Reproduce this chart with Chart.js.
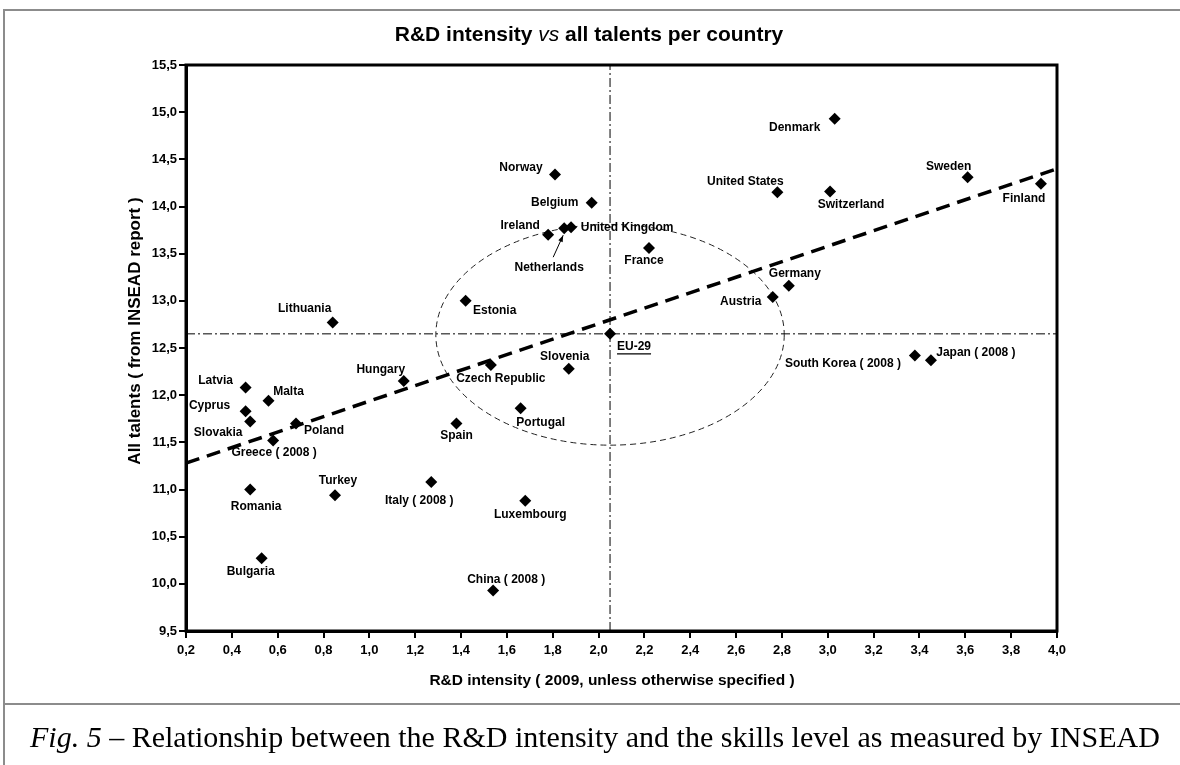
<!DOCTYPE html>
<html>
<head>
<meta charset="utf-8">
<script src="https://cdn.jsdelivr.net/npm/chart.js@4.4.1/dist/chart.umd.min.js"></script>
<style>
  html, body { margin: 0; padding: 0; background: #fff; }
  #wrap { position: relative; width: 1180px; height: 765px; overflow: hidden; }
  #frame { position: absolute; left: 3px; top: 9px; width: 1190px; height: 800px;
           border-left: 2px solid #8c8c8c; border-top: 2px solid #8c8c8c; }
  #sep { position: absolute; left: 3px; top: 703px; width: 1190px; border-top: 2px solid #8c8c8c; }
  #cap { position: absolute; left: 30px; top: 722px; white-space: nowrap; line-height: 30px;
         font-family: 'Liberation Serif', 'Times New Roman', serif; font-size: 30px; color: #000; }
  #c { position: absolute; left: 0; top: 0; }
</style>
</head>
<body>
<div id="wrap">
  <div id="frame"></div>
  <div id="sep"></div>
  <canvas id="c" width="1180" height="765"></canvas>
  <div id="cap"><i>Fig. 5</i> – Relationship between the R&amp;D intensity and the skills level as measured by INSEAD</div>
</div>
<script>
// --------- Data ----------
const countries = [
  "Latvia", "Malta", "Cyprus", "Slovakia", "Poland", "Greece ( 2008 )", "Hungary",
  "Czech Republic", "Portugal", "Spain", "Romania", "Turkey", "Italy ( 2008 )",
  "Luxembourg", "Bulgaria", "China ( 2008 )", "Lithuania", "Estonia", "Slovenia",
  "Norway", "Belgium", "Ireland", "Netherlands", "United Kingdom", "France", "EU-29",
  "Austria", "Germany", "United States", "Denmark", "Switzerland", "Sweden", "Finland",
  "South Korea ( 2008 )", "Japan ( 2008 )"
];
const rdIntensity = [
  0.46, 0.56, 0.46, 0.48, 0.68, 0.58, 1.15,
  1.53, 1.66, 1.38, 0.48, 0.85, 1.27,
  1.68, 0.53, 1.54, 0.84, 1.42, 1.87,
  1.81, 1.97, 1.78, 1.85, 1.88, 2.22, 2.05,
  2.76, 2.83, 2.78, 3.03, 3.01, 3.61, 3.93,
  3.38, 3.45
];
const allTalents = [
  12.08, 11.94, 11.83, 11.72, 11.70, 11.52, 12.15,
  12.32, 11.86, 11.70, 11.00, 10.94, 11.08,
  10.88, 10.27, 9.93, 12.77, 13.00, 12.28,
  14.34, 14.04, 13.70, 13.77, 13.78, 13.56, 12.65,
  13.04, 13.16, 14.15, 14.93, 14.16, 14.31, 14.24,
  12.42, 12.37
];

const xTicks = { min: 0.2, max: 4.0, step: 0.2 };
const yTicks = { min: 9.5, max: 15.5, step: 0.5 };

// trend line (ends of the dashed line)
const trendX = [0.2, 4.0];
const trendY = [11.28, 14.40];

// EU-29 reference lines
const refX = 2.05;
const refY = 12.65;

// dashed ellipse around the EU average (centre and half-axes in data units)
const ellipseCentre = [2.05, 12.64];
const ellipseRadii = [0.76, 1.17];

// --------- Label placement (px offsets from the marker) ----------
const labelOffsets = {
  "Latvia": [-30, -7], "Malta": [20, -9], "Cyprus": [-36, -6], "Slovakia": [-32, 11],
  "Poland": [28, 7], "Greece ( 2008 )": [1, 12], "Hungary": [-23, -11],
  "Czech Republic": [10, 14], "Portugal": [20, 14], "Spain": [0, 12],
  "Romania": [6, 17], "Turkey": [3, -14], "Italy ( 2008 )": [-12, 19],
  "Luxembourg": [5, 14], "Bulgaria": [-11, 13], "China ( 2008 )": [13, -11],
  "Lithuania": [-28, -14], "Estonia": [29, 10], "Slovenia": [-4, -12],
  "Norway": [-34, -7], "Belgium": [-37, 0], "Ireland": [-28, -9],
  "Netherlands": [-15, 39], "United Kingdom": [56, 0], "France": [-5, 13],
  "EU-29": [24, 13], "Austria": [-32, 5], "Germany": [6, -12],
  "United States": [-32, -11], "Denmark": [-40, 9], "Switzerland": [21, 13],
  "Sweden": [-19, -11], "Finland": [-17, 15], "South Korea ( 2008 )": [-72, 8],
  "Japan ( 2008 )": [45, -8]
};

const SANS = "'Liberation Sans', Arial, sans-serif";

const points = rdIntensity.map((v, i) => ({ x: v, y: allTalents[i] }));
const fmt = (v) => v.toFixed(1).replace(".", ",");

// --------- Drawing plugin ----------
const overlay = {
  id: "overlay",
  beforeDatasetsDraw(chart) {
    const { ctx, scales: { x, y } } = chart;
    const cx = x.getPixelForValue(ellipseCentre[0]);
    const cy = y.getPixelForValue(ellipseCentre[1]);
    const rx = x.getPixelForValue(ellipseCentre[0] + ellipseRadii[0]) - cx;
    const ry = cy - y.getPixelForValue(ellipseCentre[1] + ellipseRadii[1]);
    ctx.save();
    ctx.strokeStyle = "#222";
    ctx.lineWidth = 1;
    ctx.setLineDash([6, 4]);
    ctx.beginPath();
    ctx.ellipse(cx, cy, rx, ry, 0, 0, Math.PI * 2);
    ctx.stroke();
    ctx.restore();
  },
  afterDraw(chart) {
    const { ctx, chartArea: a, scales: { x, y } } = chart;
    ctx.save();

    // box round the plot
    ctx.strokeStyle = "#000";
    ctx.lineWidth = 3;
    ctx.strokeRect(a.left, a.top, a.right - a.left, a.bottom - a.top);

    // title with italic "vs"
    const parts = [
      ["R&D intensity ", "bold 21px " + SANS],
      ["vs", "italic 21px " + SANS],
      [" all talents per country", "bold 21px " + SANS]
    ];
    let total = 0;
    parts.forEach(([t, f]) => { ctx.font = f; total += ctx.measureText(t).width; });
    let tx = 589 - total / 2;
    ctx.fillStyle = "#000";
    ctx.textBaseline = "middle";
    ctx.textAlign = "left";
    parts.forEach(([t, f]) => { ctx.font = f; ctx.fillText(t, tx, 35); tx += ctx.measureText(t).width; });

    // axis titles
    ctx.textAlign = "center";
    ctx.font = "bold 15.5px " + SANS;
    ctx.fillText("R&D intensity ( 2009, unless otherwise specified )", 612, 681);
    ctx.save();
    ctx.translate(135, 331);
    ctx.rotate(-Math.PI / 2);
    ctx.font = "bold 17px " + SANS;
    ctx.fillText("All talents ( from INSEAD report )", 0, 0);
    ctx.restore();

    // point labels
    ctx.font = "bold 12px " + SANS;
    countries.forEach((name, i) => {
      const px = x.getPixelForValue(rdIntensity[i]);
      const py = y.getPixelForValue(allTalents[i]);
      const [dx, dy] = labelOffsets[name];
      ctx.fillText(name, px + dx, py + dy);
      if (name === "EU-29") {
        const w = ctx.measureText(name).width;
        ctx.lineWidth = 1.2;
        ctx.beginPath();
        ctx.moveTo(px + dx - w / 2, py + dy + 7);
        ctx.lineTo(px + dx + w / 2, py + dy + 7);
        ctx.stroke();
      }
      if (name === "Netherlands") {
        // arrow from the label up to its marker
        const x0 = px - 11, y0 = py + 29, x1 = px - 1, y1 = py + 7;
        const ang = Math.atan2(y1 - y0, x1 - x0);
        ctx.lineWidth = 1;
        ctx.beginPath();
        ctx.moveTo(x0, y0);
        ctx.lineTo(x1, y1);
        ctx.stroke();
        ctx.beginPath();
        ctx.moveTo(x1, y1);
        ctx.lineTo(x1 - 7 * Math.cos(ang - 0.35), y1 - 7 * Math.sin(ang - 0.35));
        ctx.lineTo(x1 - 7 * Math.cos(ang + 0.35), y1 - 7 * Math.sin(ang + 0.35));
        ctx.closePath();
        ctx.fill();
      }
    });
    ctx.restore();
  }
};

// --------- Chart ----------
new Chart(document.getElementById("c"), {
  type: "scatter",
  data: {
    datasets: [
      {
        label: "Countries",
        data: points,
        pointStyle: "rectRot",
        pointRadius: 6,
        backgroundColor: "#000",
        borderColor: "#000",
        borderWidth: 0,
        order: 0
      },
      {
        type: "line",
        label: "Trend",
        data: trendX.map((v, i) => ({ x: v, y: trendY[i] })),
        borderColor: "#000",
        borderWidth: 3.5,
        borderDash: [14, 8],
        pointRadius: 0,
        order: 1
      },
      {
        type: "line",
        label: "EU-29 x",
        data: [{ x: refX, y: yTicks.min }, { x: refX, y: yTicks.max }],
        borderColor: "#000",
        borderWidth: 1,
        borderDash: [9, 3, 2, 3],
        pointRadius: 0,
        order: 2
      },
      {
        type: "line",
        label: "EU-29 y",
        data: [{ x: xTicks.min, y: refY }, { x: xTicks.max, y: refY }],
        borderColor: "#000",
        borderWidth: 1,
        borderDash: [9, 3, 2, 3],
        pointRadius: 0,
        order: 2
      }
    ]
  },
  options: {
    responsive: false,
    animation: false,
    layout: { padding: { left: 0, top: 65, right: 123, bottom: 0 } },
    plugins: { legend: { display: false }, tooltip: { enabled: false } },
    scales: {
      x: {
        type: "linear",
        min: xTicks.min,
        max: xTicks.max,
        afterFit: (s) => { s.height = 134; },
        ticks: {
          stepSize: xTicks.step,
          color: "#000",
          padding: 5,
          font: { family: SANS, size: 13, weight: "bold" },
          callback: (v) => fmt(v)
        },
        grid: { drawOnChartArea: false, drawTicks: true, tickLength: 7, color: "#000", lineWidth: 2 },
        border: { display: true, color: "#000", width: 3 }
      },
      y: {
        type: "linear",
        min: yTicks.min,
        max: yTicks.max,
        afterFit: (s) => { s.width = 186; },
        ticks: {
          stepSize: yTicks.step,
          color: "#000",
          padding: 2,
          font: { family: SANS, size: 13, weight: "bold" },
          callback: (v) => fmt(v)
        },
        grid: { drawOnChartArea: false, drawTicks: true, tickLength: 7, color: "#000", lineWidth: 2 },
        border: { display: true, color: "#000", width: 3 }
      }
    }
  },
  plugins: [overlay]
});
</script>
</body>
</html>
